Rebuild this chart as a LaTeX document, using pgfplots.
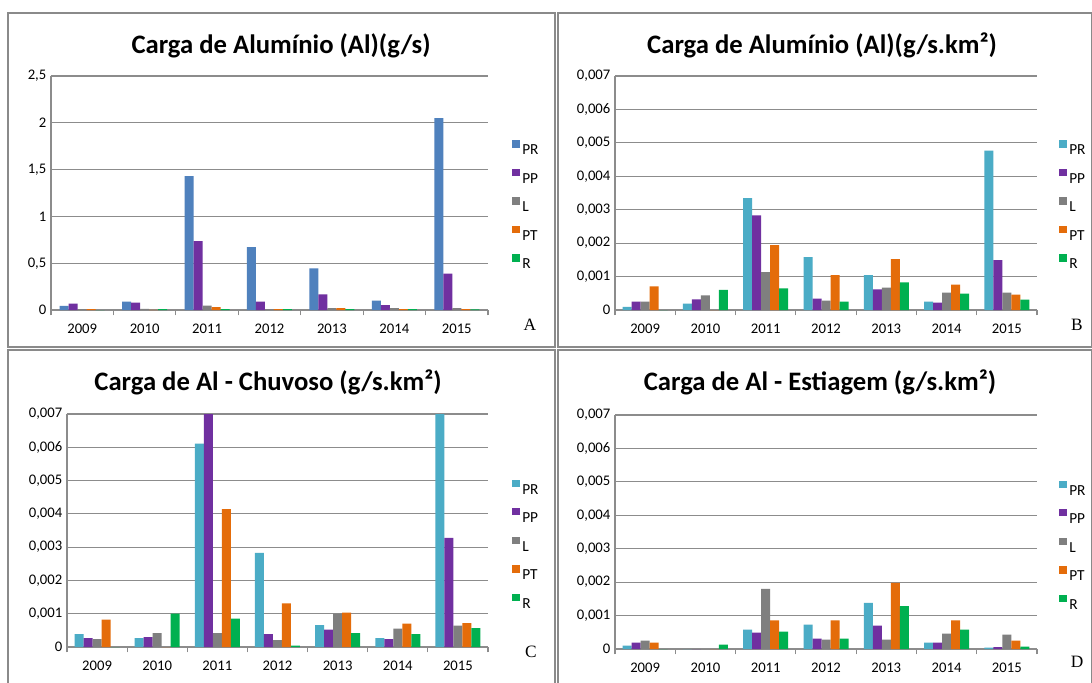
\documentclass[border=0pt]{standalone}
\usepackage{pgfplots}
\pgfplotsset{compat=1.18}
\usepackage{pgfplotstable}
\usepackage{fontspec}
\setmainfont{Carlito}
\newfontfamily\letterfont{Liberation Serif}
\definecolor{cPRa}{HTML}{4F81BD}
\definecolor{cPR}{HTML}{4BACC6}
\definecolor{cPP}{HTML}{7030A0}
\definecolor{cL}{HTML}{7F7F7F}
\definecolor{cPT}{HTML}{E46C0A}
\definecolor{cR}{HTML}{00B050}
\definecolor{gridc}{HTML}{8C8C8C}
\definecolor{framec}{HTML}{8A8A8A}

\pgfplotstableread{
x PR PP L PT R
0 0.045 0.068 0.010 0.010 0
1 0.089 0.078 0.012 0.002 0.010
2 1.43 0.737 0.046 0.032 0.010
3 0.673 0.089 0.010 0.010 0.010
4 0.445 0.167 0.020 0.020 0.010
5 0.100 0.053 0.020 0.010 0.010
6 2.05 0.390 0.020 0.010 0.006
}\tabA
\pgfplotstableread{
x PR PP L PT R
0 0.00009 0.00025 0.00025 0.00071 0
1 0.00019 0.00032 0.00044 0 0.00060
2 0.00335 0.00283 0.00113 0.00194 0.00065
3 0.00158 0.00034 0.00028 0.00104 0.00025
4 0.00104 0.00062 0.00067 0.00152 0.00083
5 0.00025 0.00022 0.00052 0.00076 0.00049
6 0.00477 0.00149 0.00052 0.00046 0.00031
}\tabB
\pgfplotstableread{
x PR PP L PT R
0 0.00039 0.00027 0.00024 0.00082 0
1 0.00027 0.00030 0.00042 0 0.00100
2 0.00611 0.00780 0.00042 0.00414 0.00085
3 0.00283 0.00039 0.00021 0.00131 0.00004
4 0.00066 0.00052 0.00100 0.00103 0.00042
5 0.00027 0.00024 0.00055 0.00070 0.00039
6 0.00850 0.00328 0.00064 0.00072 0.00057
}\tabC
\pgfplotstableread{
x PR PP L PT R
0 0.00010 0.00019 0.00025 0.00019 0
1 0 0 0 0 0.00013
2 0.00058 0.00049 0.00180 0.00086 0.00052
3 0.00073 0.00031 0.00028 0.00086 0.00031
4 0.00138 0.00070 0.00028 0.00198 0.00128
5 0.00019 0.00019 0.00046 0.00086 0.00058
6 0.00004 0.00006 0.00043 0.00025 0.00007
}\tabD

\pgfplotsset{
  ybar legend/.style={
    legend image code/.code={\fill[##1] (0pt,1.3pt) rectangle (5.5pt,6.8pt);}},
  panel/.style={
    scale only axis, anchor=south west,
    ybar=0pt, bar width=6.75pt,
    xmin=-0.5, xmax=6.5, ymin=0,
    xtick={0,1,2,3,4,5,6},
    xticklabels={2009,2010,2011,2012,2013,2014,2015},
    minor xtick={-0.5,0.5,1.5,2.5,3.5,4.5,5.5,6.5},
    major tick length=0pt, minor tick length=4pt,
    tick align=outside,
    axis x line*=bottom, axis y line*=left,
    axis line style={gridc, line width=0.8pt, -},
    ymajorgrids, grid style={gridc, line width=0.8pt},
    minor tick style={gridc, line width=0.8pt},
    tick label style={font=\fontsize{11}{13}\selectfont, text=black},
    xticklabel style={yshift=-7pt},
    /pgf/number format/assume math mode=true,
    /pgf/number format/use comma,
    scaled y ticks=false,
    legend style={draw=none, fill=none, at={(1,1)}, anchor=north west,
      font=\fontsize{11.5}{13}\selectfont, row sep=10.6pt,
      nodes={inner sep=0pt, text height=8pt, text depth=0pt},
      /tikz/every odd column/.append style={column sep=2pt}},
    legend cell align=left,
  },
  small/.style={ymax=0.007, ytick={0,0.001,0.002,0.003,0.004,0.005,0.006,0.007},
    yticklabel style={/pgf/number format/.cd, fixed, precision=3, use comma}},
}

\begin{document}
\begin{tikzpicture}
\path[use as bounding box] (0pt,0pt) rectangle (819pt,-511.5pt);
\fill[white] (0pt,0pt) rectangle (819pt,-511.5pt);
\draw[framec, line width=1.1pt] (6pt,-9.75pt) rectangle (416.25pt,-260.25pt);
\draw[framec, line width=1.1pt] (418.5pt,-9.75pt) rectangle (818.5pt,-260.25pt);
\draw[framec, line width=1.1pt] (6pt,-262.5pt) rectangle (416.25pt,-513pt);
\draw[framec, line width=1.1pt] (418.5pt,-262.5pt) rectangle (818.5pt,-513pt);

% Panel A
\begin{axis}[panel, at={(38.25pt,-232.5pt)}, width=327.75pt, height=175.5pt,
  ymax=2.5, ytick={0,0.5,1,1.5,2,2.5},
  legend style={xshift=15pt, yshift=-46pt}]
\addplot[fill=cPRa, draw=none] table[x=x, y=PR] {\tabA};
\addplot[fill=cPP, draw=none] table[x=x, y=PP] {\tabA};
\addplot[fill=cL, draw=none] table[x=x, y=L] {\tabA};
\addplot[fill=cPT, draw=none] table[x=x, y=PT] {\tabA};
\addplot[fill=cR, draw=none] table[x=x, y=R] {\tabA};
\legend{PR,PP,L,PT,R}
\end{axis}

% Panel B
\begin{axis}[panel, small, at={(461.25pt,-232.5pt)}, width=316.5pt, height=175.5pt,
  legend style={xshift=13.5pt, yshift=-46pt}]
\addplot[fill=cPR, draw=none] table[x=x, y=PR] {\tabB};
\addplot[fill=cPP, draw=none] table[x=x, y=PP] {\tabB};
\addplot[fill=cL, draw=none] table[x=x, y=L] {\tabB};
\addplot[fill=cPT, draw=none] table[x=x, y=PT] {\tabB};
\addplot[fill=cR, draw=none] table[x=x, y=R] {\tabB};
\legend{PR,PP,L,PT,R}
\end{axis}

% Panel C
\begin{axis}[panel, small, at={(50.25pt,-485.25pt)}, width=315.75pt, height=174.75pt,
  legend style={xshift=15pt, yshift=-47pt}]
\addplot[fill=cPR, draw=none] table[x=x, y=PR] {\tabC};
\addplot[fill=cPP, draw=none] table[x=x, y=PP] {\tabC};
\addplot[fill=cL, draw=none] table[x=x, y=L] {\tabC};
\addplot[fill=cPT, draw=none] table[x=x, y=PT] {\tabC};
\addplot[fill=cR, draw=none] table[x=x, y=R] {\tabC};
\legend{PR,PP,L,PT,R}
\end{axis}

% Panel D
\begin{axis}[panel, small, at={(461.25pt,-486.75pt)}, width=316.5pt, height=175.5pt,
  legend style={xshift=13.5pt, yshift=-47pt}]
\addplot[fill=cPR, draw=none] table[x=x, y=PR] {\tabD};
\addplot[fill=cPP, draw=none] table[x=x, y=PP] {\tabD};
\addplot[fill=cL, draw=none] table[x=x, y=L] {\tabD};
\addplot[fill=cPT, draw=none] table[x=x, y=PT] {\tabD};
\addplot[fill=cR, draw=none] table[x=x, y=R] {\tabD};
\legend{PR,PP,L,PT,R}
\end{axis}

\node[font=\fontsize{20}{24}\selectfont\bfseries] at (210.75pt,-34.5pt) {Carga de Alumínio (Al)(g/s)};
\node[font=\fontsize{20}{24}\selectfont\bfseries] at (616.5pt,-33.75pt) {Carga de Alumínio (Al)(g/s.km²)};
\node[font=\fontsize{20}{24}\selectfont\bfseries] at (201pt,-286.5pt) {Carga de Al - Chuvoso (g/s.km²)};
\node[font=\fontsize{20}{24}\selectfont\bfseries] at (615pt,-286.5pt) {Carga de Al - Estiagem (g/s.km²)};

\node[font=\letterfont\fontsize{13}{15}\selectfont] at (397.5pt,-243.75pt) {A};
\node[font=\letterfont\fontsize{13}{15}\selectfont] at (807.75pt,-243.75pt) {B};
\node[font=\letterfont\fontsize{13}{15}\selectfont] at (398.25pt,-489pt) {C};
\node[font=\letterfont\fontsize{13}{15}\selectfont] at (807.75pt,-496.5pt) {D};
\end{tikzpicture}
\end{document}
